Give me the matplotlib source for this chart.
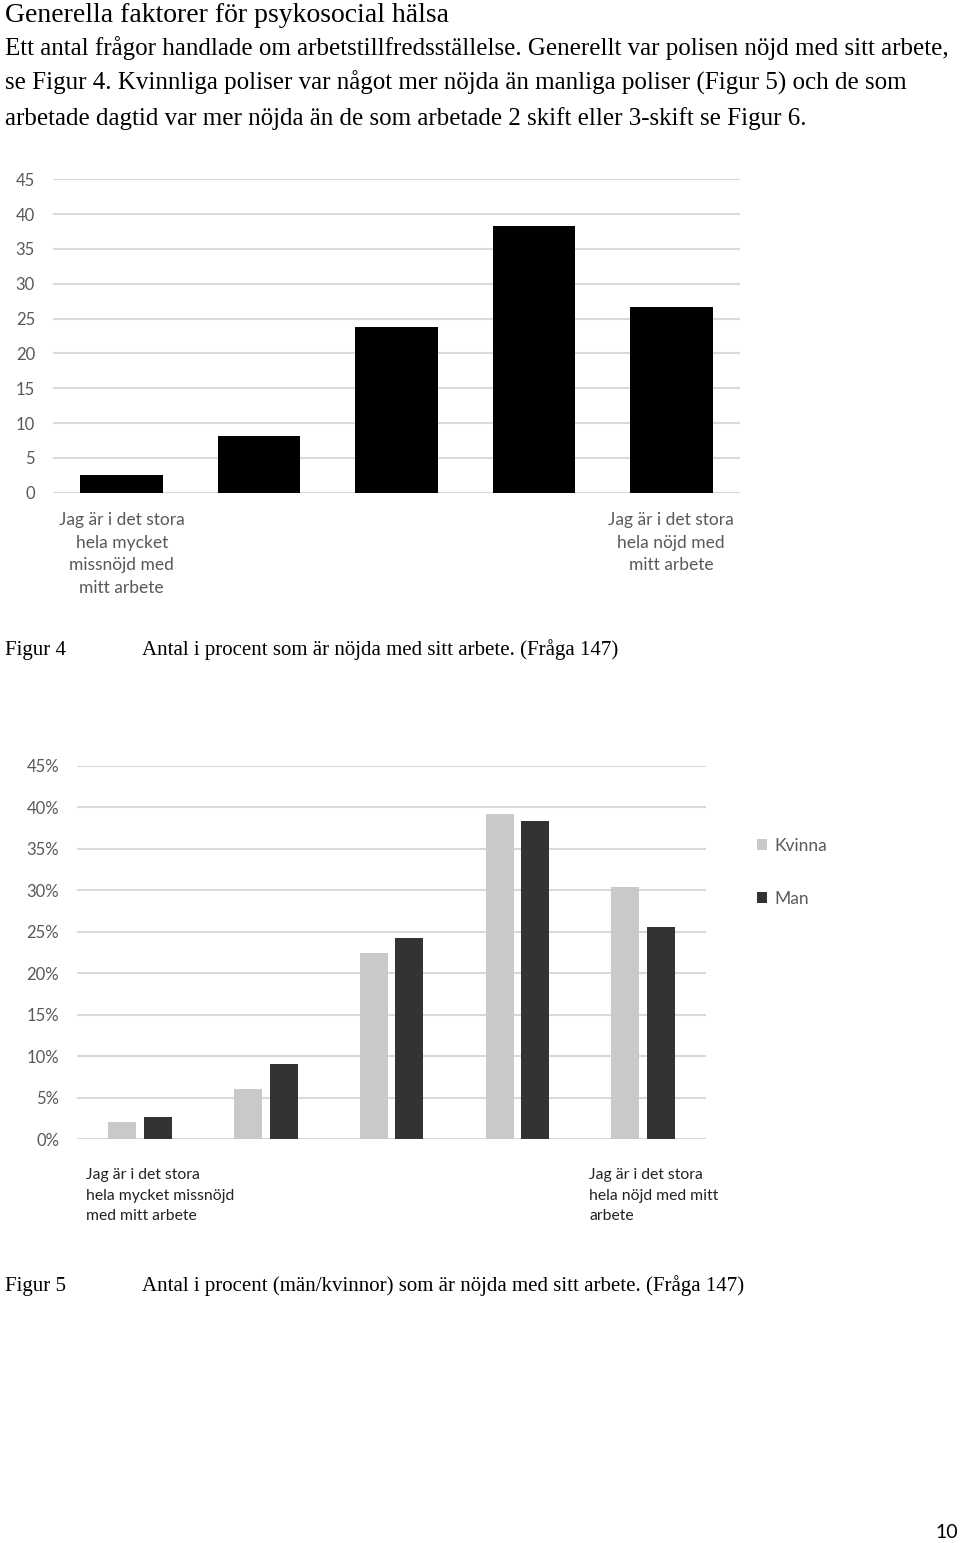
import numpy as np
import matplotlib
matplotlib.use("Agg")
import matplotlib.pyplot as plt

# text
title = "Generella faktorer för psykosocial hälsa"
body = ["Ett antal frågor handlade om arbetstillfredsställelse. Generellt var polisen nöjd med sitt arbete,",
        "se Figur 4. Kvinnliga poliser var något mer nöjda än manliga poliser (Figur 5) och de som",
        "arbetade dagtid var mer nöjda än de som arbetade 2 skift eller 3-skift se Figur 6."]
cap4 = ("Figur 4", "Antal i procent som är nöjda med sitt arbete. (Fråga 147)")
cap5 = ("Figur 5", "Antal i procent (män/kvinnor) som är nöjda med sitt arbete. (Fråga 147)")

# figure 4 data
fig4_labels = ["Jag är i det stora\nhela mycket\nmissnöjd med\nmitt arbete", "", "", "",
               "Jag är i det stora\nhela nöjd med\nmitt arbete"]
fig4_values = [2.5, 8.1, 23.8, 38.3, 26.6]
fig4_ticks = [0, 5, 10, 15, 20, 25, 30, 35, 40, 45]

# figure 5 data
fig5_labels = ["Jag är i det stora\nhela mycket missnöjd\nmed mitt arbete", "", "", "",
               "Jag är i det stora\nhela nöjd med mitt\narbete"]
kvinna = [2.0, 6.0, 22.4, 39.2, 30.4]
man = [2.6, 9.0, 24.3, 38.4, 25.6]
fig5_ticks = [0, 5, 10, 15, 20, 25, 30, 35, 40, 45]

W, H = 960, 1543
fig = plt.figure(figsize=(W / 100, H / 100), dpi=100)

serif = "Liberation Serif"
sans = "Lato"
gray = "#595959"
grid = "#d9d9d9"


def fy(px):
    return 1 - px / H


def fx(px):
    return px / W


fig.text(fx(5), fy(22.5), title, family=serif, fontsize=20, va="baseline")
for i, line in enumerate(body):
    fig.text(fx(5), fy(54.5 + 35 * i), line, family=serif, fontsize=18, va="baseline")

# ---- Figur 4
ax1 = fig.add_axes([fx(53), fy(492.7), fx(740 - 53), (492.7 - 179.3) / H])
x = np.arange(len(fig4_values))
ax1.bar(x, fig4_values, width=0.6, color="black", zorder=3)
ax1.set_xlim(-0.5, 4.5)
ax1.set_ylim(0, 45)
ax1.set_yticks(fig4_ticks)
ax1.set_yticklabels([str(t) for t in fig4_ticks], family=sans, fontsize=12, color=gray)
ax1.set_xticks(x)
ax1.set_xticklabels(fig4_labels, family=sans, fontsize=12.5, color=gray, linespacing=1.5, va="top")
ax1.tick_params(length=0, pad=13)
ax1.tick_params(axis="x", pad=14)
ax1.grid(axis="y", color=grid, linewidth=1.5, zorder=0)
for s in ax1.spines.values():
    s.set_visible(False)

fig.text(fx(5), fy(650), cap4[0], family=serif, fontsize=15, va="center")
fig.text(fx(142), fy(650), cap4[1], family=serif, fontsize=15, va="center")

# ---- Figur 5
ax2 = fig.add_axes([fx(77.3), fy(1139), fx(706 - 77.3), (1139 - 766) / H])
x = np.arange(len(kvinna))
bw = 0.223
off = (bw + 0.06) / 2
ax2.bar(x - off, kvinna, width=bw, color="#c9c9c9", label="Kvinna", zorder=3)
ax2.bar(x + off, man, width=bw, color="#333333", label="Man", zorder=3)
ax2.set_xlim(-0.5, 4.5)
ax2.set_ylim(0, 45)
ax2.set_yticks(fig5_ticks)
ax2.set_yticklabels([f"{t}%" for t in fig5_ticks], family=sans, fontsize=12, color=gray)
ax2.set_xticks([])
for i, lab in enumerate(fig5_labels):
    if lab:
        ax2.text(i - 0.43, -0.078, lab, transform=ax2.get_xaxis_transform(),
                 family=sans, fontsize=11.3, color="#222222", ha="left", va="top",
                 linespacing=1.6)
ax2.tick_params(length=0, pad=13)
ax2.grid(axis="y", color=grid, linewidth=1.5, zorder=0)
for s in ax2.spines.values():
    s.set_visible(False)
leg = ax2.legend(loc="upper left", bbox_to_anchor=((741 - 77.3) / (706 - 77.3), 0.85),
                 frameon=False, handlelength=0.6, handleheight=0.6, handletextpad=0.4,
                 labelspacing=2.15, prop={"family": sans, "size": 12.5})
for t in leg.get_texts():
    t.set_color(gray)

fig.text(fx(5), fy(1286), cap5[0], family=serif, fontsize=15, va="center")
fig.text(fx(142), fy(1286), cap5[1], family=serif, fontsize=15, va="center")

fig.text(fx(958), fy(1532), "10", family=sans, fontsize=14, ha="right", va="center")

fig.savefig("out.png", dpi=100)
